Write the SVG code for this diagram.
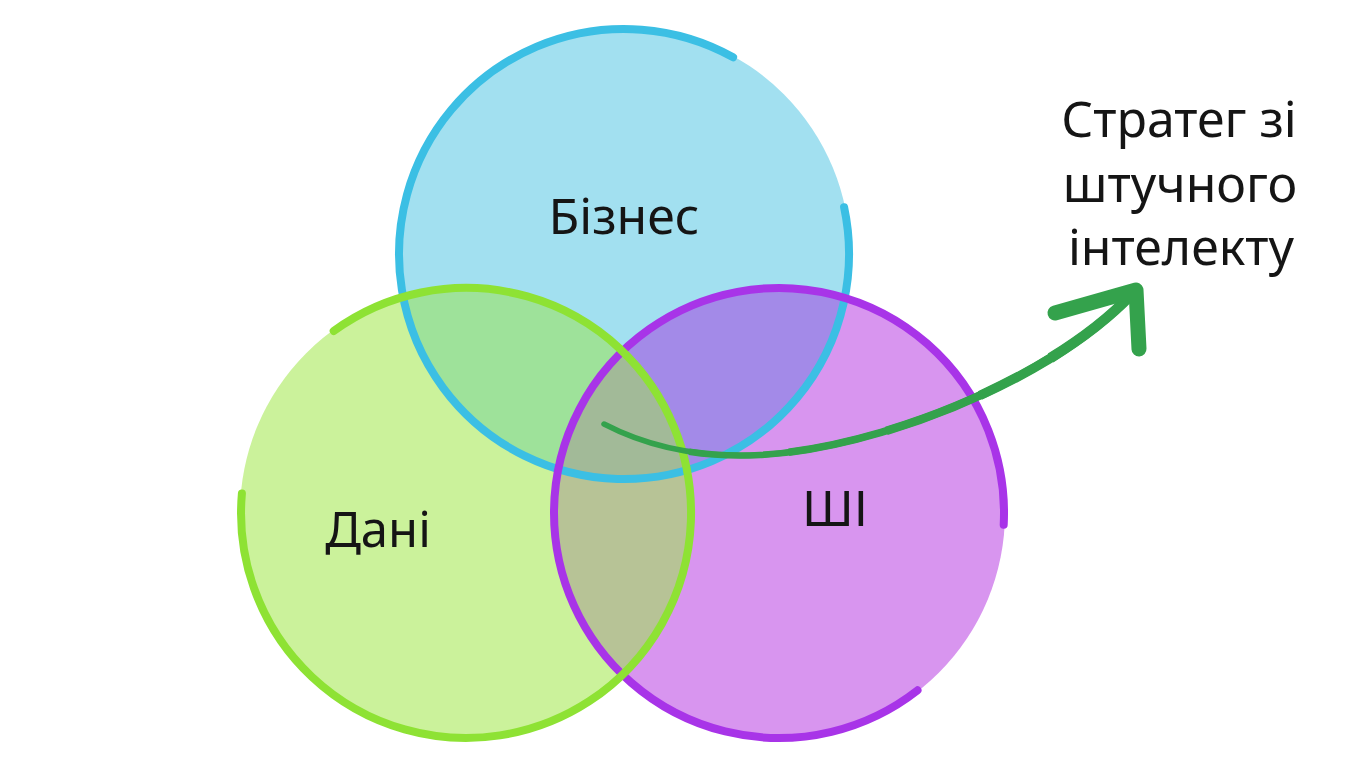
<svg xmlns="http://www.w3.org/2000/svg" width="1365" height="768" viewBox="0 0 1365 768">
  <defs>
    <clipPath id="clipB"><circle cx="624" cy="254" r="226"/></clipPath>
    <clipPath id="clipD"><circle cx="466" cy="513" r="226"/></clipPath>
    <clipPath id="clipA"><circle cx="779" cy="513" r="226"/></clipPath>
    <path id="arrowPath" d="M604,424 C650,448 700,458 760,455 C880,448 1050,380 1132,294"/>
    <style>
      .lbl { font-family: "Noto Sans", "Open Sans", "DejaVu Sans", sans-serif; fill: #151515; }
      .ring { fill: none; stroke-width: 8; stroke-linecap: round; }
      .arrow { fill: none; stroke: #34a24c; stroke-linecap: round; stroke-linejoin: round; }
      .taper { fill: none; stroke: #34a24c; stroke-linecap: butt; }
    </style>
  </defs>
  <rect width="1365" height="768" fill="#ffffff"/>

  <g id="regions">
    <circle cx="624" cy="254" r="226" fill="#a2e0f0"/>
    <circle cx="466" cy="513" r="226" fill="#cbf29b"/>
    <circle cx="779" cy="513" r="226" fill="#d895ef"/>
    <circle cx="624" cy="254" r="226" fill="#9ee29a" clip-path="url(#clipD)"/>
    <circle cx="624" cy="254" r="226" fill="#a38ae8" clip-path="url(#clipA)"/>
    <circle cx="466" cy="513" r="226" fill="#b7c396" clip-path="url(#clipA)"/>
    <g clip-path="url(#clipA)">
      <circle cx="624" cy="254" r="226" fill="#a2ba98" clip-path="url(#clipD)"/>
    </g>
  </g>

  <g id="node-business">
    <path class="ring" stroke="#3bbfe4" d="M844.1,207.2 A225,225 0 1 1 733.1,57.2"/>
    <text class="lbl" x="624" y="234" font-size="50" text-anchor="middle">Бізнес</text>
  </g>
  <g id="node-ai">
    <path class="ring" stroke="#a834e8" d="M917.5,690.3 A225,225 0 1 1 1003.7,524.8"/>
    <text class="lbl" x="835" y="526" font-size="50" text-anchor="middle">ШІ</text>
  </g>
  <g id="node-data">
    <path class="ring" stroke="#8ee234" d="M333.7,331 A225,225 0 1 1 241.9,493.4"/>
    <text class="lbl" x="378" y="547" font-size="49" text-anchor="middle">Дані</text>
  </g>

  <g id="node-strategist">
    <text class="lbl" x="1179" y="137" font-size="50" text-anchor="middle">Стратег зі</text>
    <text class="lbl" x="1180" y="202" font-size="50" text-anchor="middle">штучного</text>
    <text class="lbl" x="1181" y="265" font-size="50" text-anchor="middle">інтелекту</text>
  </g>

  <g id="connectors">
    <use href="#arrowPath" class="arrow" stroke-width="5.5"/>
    <use href="#arrowPath" class="taper" stroke-width="6.5" stroke-dasharray="0 90 2000 0"/>
    <use href="#arrowPath" class="taper" stroke-width="7.5" stroke-dasharray="0 190 2000 0"/>
    <use href="#arrowPath" class="taper" stroke-width="8.5" stroke-dasharray="0 290 2000 0"/>
    <use href="#arrowPath" class="taper" stroke-width="9.5" stroke-dasharray="0 390 2000 0"/>
    <use href="#arrowPath" class="taper" stroke-width="10.5" stroke-dasharray="0 470 2000 0"/>
    <polyline class="arrow" stroke-width="15" points="1055,313 1136,290 1139,349"/>
  </g>
</svg>
